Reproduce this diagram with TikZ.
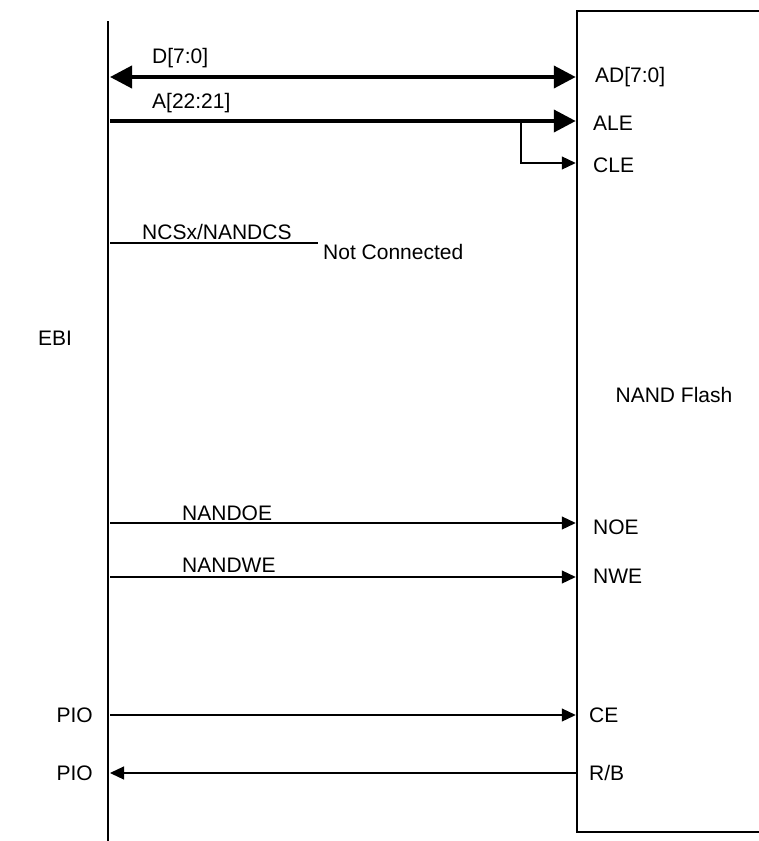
\documentclass[tikz,border=0pt]{standalone}
\usepackage{fontspec}
\setmainfont{Liberation Sans}
\usetikzlibrary{arrows.meta, positioning, calc}

\begin{document}
\begin{tikzpicture}[x=1pt, y=-1pt, font=\fontsize{21}{25}\selectfont,
    bus/.style={line width=4pt, -{Triangle[length=22pt, width=22pt]}},
    sig/.style={line width=1.2pt, -{Triangle[length=14pt, width=13pt]}},
    pin/.style={inner sep=0pt, anchor=west},
    lbl/.style={inner sep=0pt, anchor=west}]
    \useasboundingbox (0,0) rectangle (759,841);

    % EBI
    \coordinate (ebitop) at (108,21);
    \coordinate (ebibot) at (108,841);
    \draw[line width=2.5pt] (ebitop) -- (ebibot);
    \node (ebi) at (55,338) {EBI};

    % NAND Flash (right edge runs off the page)
    \node[draw, line width=2.5pt, minimum width=200pt, minimum height=821pt, inner sep=0pt] (flash) at (677,421.5) {};
    \node (nand) at (674,395) {NAND Flash};

    % pins
    \foreach \n/\y in {ad/77, ale/121, cle/163, ncs/243, noe/523, nwe/577, ce/715, rb/773} {
        \coordinate (ebi-\n) at (110,\y);
        \coordinate (pin-\n) at (flash.west |- 0,\y);
    }
    \node[pin] (ad)  at (595,77)  {AD[7:0]};
    \node[pin] (ale) at (593,123) {ALE};
    \node[pin] (cle) at (593,165) {CLE};
    \node[pin] (noe) at (593,527) {NOE};
    \node[pin] (nwe) at (593,576) {NWE};
    \node[pin] (ce)  at (589,715) {CE};
    \node[pin] (rb)  at (589,773) {R/B};

    % bus
    \draw[bus, {Triangle[length=22pt, width=22pt]}-{Triangle[length=22pt, width=22pt]}] (ebi-ad) -- (pin-ad);
    \node[lbl] (dbus) at (152,58) {D[7:0]};
    \draw[bus] (ebi-ale) -- (pin-ale);
    \node[lbl] (abus) at (152,103) {A[22:21]};
    \coordinate (split) at (521,121);
    \draw[sig] (split) |- (pin-cle);

    % NCS
    \node[lbl] (ncs) at (142,232) {NCSx/NANDCS};
    \node[lbl] (nc) at (323,252) {Not Connected};
    \draw[line width=1.2pt] (ebi-ncs) -- ($(nc.west |- ebi-ncs)+(-5,0)$);

    % NANDOE / NANDWE
    \draw[sig] (ebi-noe) -- (pin-noe);
    \node[lbl] (oe) at (182,513) {NANDOE};
    \draw[sig] (ebi-nwe) -- (pin-nwe);
    \node[lbl] (we) at (182,565) {NANDWE};

    % PIO
    \node[inner sep=0pt, anchor=east] (pio1) at (93,715) {PIO};
    \node[inner sep=0pt, anchor=east] (pio2) at (93,773) {PIO};
    \draw[sig] (ebi-ce) -- (pin-ce);
    \draw[sig] (pin-rb) -- (ebi-rb);
\end{tikzpicture}
\end{document}
